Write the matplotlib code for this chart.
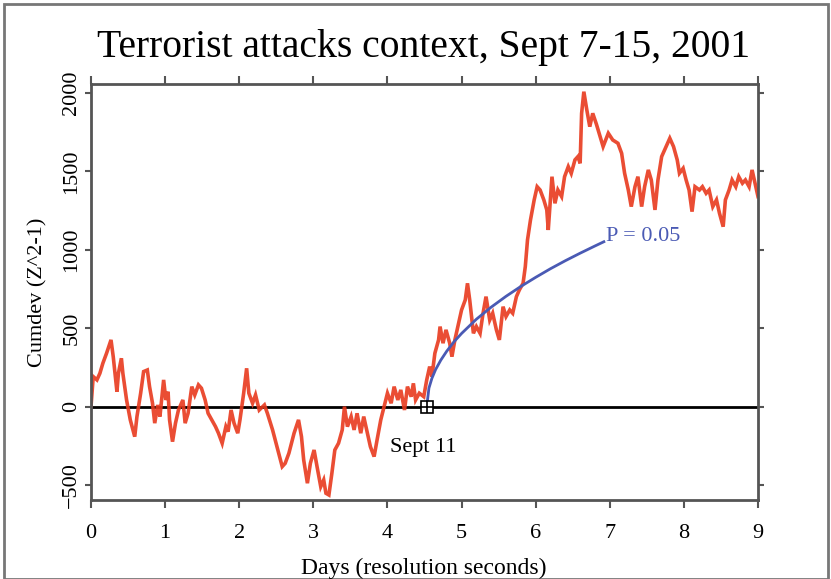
import matplotlib
matplotlib.use("Agg")
import matplotlib.pyplot as plt
from matplotlib.patches import Rectangle

plt.rcParams['font.family'] = ['Liberation Serif', 'DejaVu Serif']

# cumulative deviation, days 0-9
days = [0.00, 0.03, 0.08, 0.12, 0.16, 0.21, 0.27, 0.30, 0.35, 0.37, 0.41, 0.43, 0.48, 0.53, 0.59, 0.62,
        0.67, 0.71, 0.76, 0.79, 0.83, 0.86, 0.90, 0.93, 0.98, 1.01, 1.04, 1.06, 1.10, 1.14, 1.18, 1.24,
        1.27, 1.31, 1.36, 1.40, 1.45, 1.49, 1.54, 1.58, 1.63, 1.68, 1.72, 1.77, 1.82, 1.85, 1.89, 1.93,
        1.98, 2.01, 2.06, 2.10, 2.13, 2.18, 2.22, 2.27, 2.34,
        2.38, 2.45, 2.51, 2.58, 2.62, 2.67, 2.74, 2.80, 2.84, 2.87, 2.92, 2.96, 3.01, 3.05, 3.10, 3.14,
        3.17, 3.21, 3.25, 3.29, 3.34, 3.39, 3.42, 3.46, 3.51, 3.55, 3.59, 3.64, 3.68, 3.73, 3.77, 3.82,
        3.86, 3.91, 3.96, 4.00, 4.05, 4.09, 4.14, 4.18, 4.23, 4.27, 4.32, 4.35, 4.38, 4.43,
        4.49, 4.53, 4.57, 4.60, 4.64, 4.69, 4.71, 4.75, 4.79, 4.84, 4.87, 4.91, 4.96, 5.00, 5.05, 5.08,
        5.11, 5.16, 5.20, 5.25, 5.29, 5.33, 5.38, 5.42, 5.47, 5.51, 5.56, 5.60, 5.65, 5.69, 5.74, 5.78,
        5.83, 5.86, 5.89, 5.93, 5.98, 6.02, 6.06, 6.11, 6.15, 6.17, 6.22, 6.26, 6.30, 6.35, 6.39, 6.44,
        6.48, 6.53, 6.57, 6.60, 6.62, 6.65, 6.69, 6.73, 6.77,
        6.82, 6.87, 6.91, 6.98, 7.04, 7.11, 7.16, 7.20, 7.25, 7.29, 7.34, 7.38, 7.43, 7.47, 7.52, 7.56,
        7.61, 7.65, 7.70, 7.76, 7.81, 7.86, 7.91, 7.94, 7.99, 8.03, 8.07, 8.11, 8.15, 8.21, 8.25, 8.30,
        8.34, 8.39, 8.44, 8.48, 8.53, 8.56, 8.61, 8.65, 8.70, 8.74, 8.79, 8.83, 8.88, 8.92, 8.95, 9.00]
cumdev = [0, 191, 170, 212, 276, 340, 425, 318, 95, 212, 308, 212, 42, -85, -192, -64,
          85, 223, 233, 127, 21, -106, 10, -64, 170, 42, 95, -85, -224, -106, -22, 42,
          -106, -43, 127, 74, 138, 117, 42, -43, -85, -128, -170, -234, -128, -160, -22, -106,
          -170, -85, 85, 244, 85, 21, 74, -22, 10,
          -43, -149, -256, -383, -362, -298, -170, -85, -192, -341, -489, -362, -277, -383, -511, -468,
          -553, -564, -426, -277, -234, -149, -1, -128, -64, -149, -43, -170, -64, -170, -256, -319,
          -213, -85, 10, 85, 21, 127, 42, 106, -22, 127, 63, 148, 42, 85,
          63, 170, 255, 191, 340, 425, 510, 404, 489, 404, 318, 425, 531, 616, 680, 786,
          680, 467, 510, 467, 595, 701, 552, 595, 489, 425, 637, 574, 616, 595, 701, 744,
          786, 892, 1063, 1190, 1318, 1402, 1381, 1318, 1254, 1126, 1466, 1296, 1381, 1339, 1466, 1530,
          1487, 1573, 1594, 1551, 1870, 2008, 1892, 1785, 1870,
          1800, 1721, 1658, 1743, 1700, 1679, 1615, 1488, 1381, 1275, 1402, 1466, 1275, 1402, 1509, 1445,
          1254, 1445, 1594, 1658, 1711, 1658, 1573, 1488, 1519, 1445, 1381, 1243, 1402, 1381, 1402, 1360,
          1381, 1275, 1318, 1233, 1147, 1318, 1381, 1445, 1402, 1466, 1424, 1445, 1402, 1509, 1445, 1339]

# P = 0.05 envelope from Sept 11
p_days = [4.53, 4.56, 4.60, 4.65, 4.72, 4.80, 4.90, 5.00, 5.20, 5.40, 5.60, 5.80, 6.00, 6.20, 6.40,
          6.60, 6.80, 6.92]
p_cumdev = [0, 118, 180, 236, 296, 353, 414, 466, 557, 634, 703, 766, 824, 879, 930, 978, 1024, 1051]

event_day = 4.53
xticks = list(range(0, 10))
yticks = [-500, 0, 500, 1000, 1500, 2000]

fig = plt.figure(figsize=(8.31, 5.79), dpi=100)
fig.patches.append(Rectangle((4/831, 0), 824/831, 1 - 4/579, transform=fig.transFigure,
                             fill=False, edgecolor='#777777', linewidth=2))

ax = fig.add_axes([91/831, 1 - 500/579, 667/831, 416/579])
ax.axhline(0, color='black', linewidth=2, zorder=1)
ax.plot(days, cumdev, color='#e83a1e', linewidth=2.6, alpha=0.9, solid_joinstyle='miter', zorder=2)
ax.plot(p_days, p_cumdev, color='#4a5ab4', linewidth=2, zorder=3)
ax.plot([event_day], [0], marker='s', markersize=8, markerfacecolor='white',
        markeredgecolor='black', markeredgewidth=1.2, zorder=4)
ax.plot([event_day], [0], marker='+', markersize=8, color='black', markeredgewidth=1.2, zorder=5)

ax.text(4.03, -258, 'Sept 11', fontsize=16, va='center', ha='left')
ax.text(6.95, 1082, 'P = 0.05', fontsize=16, va='center', ha='left', color='#4a5ab4')

ax.set_xlim(0, 9)
ax.set_ylim(-596, 2057)
ax.set_xticks(xticks)
ax.set_yticks(yticks)
ax.tick_params(axis='both', direction='out', length=6, width=1.5, color='#555555', labelsize=16,
               top=True, right=True)
ax.tick_params(axis='y', length=4, pad=3)
ax.tick_params(axis='x', pad=11)
for lab in ax.get_yticklabels():
    lab.set_rotation(90)
    lab.set_va('center')
for s in ax.spines.values():
    s.set_color('#555555')
    s.set_linewidth(2)

fig.text(424/831, 1 - 47/579, 'Terrorist attacks context, Sept 7-15, 2001', fontsize=28.5,
         ha='center', va='center')
fig.text(424/831, 1 - 568/579, 'Days (resolution seconds)', fontsize=17, ha='center', va='center')
fig.text(38/831, 1 - 292/579, 'Cumdev (Z^2-1)', fontsize=16, ha='center', va='center', rotation=90)

fig.savefig('out.png', dpi=100)
